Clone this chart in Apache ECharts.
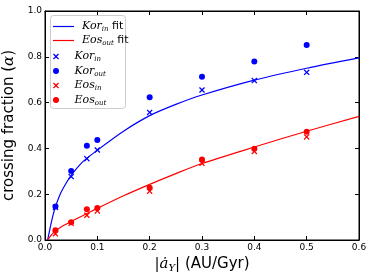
<!DOCTYPE html>
<html><head><meta charset="utf-8">
<script src="https://cdn.jsdelivr.net/npm/echarts@6/dist/echarts.min.js"></script>
<style>html,body{margin:0;padding:0;background:#fff}#c{width:374px;height:280px}</style>
</head><body><div id="c"></div>
<script>
// ---- data ----
const xPoints = [0.02, 0.05, 0.08, 0.1, 0.2, 0.3, 0.4, 0.5];
const korIn  = [0.143, 0.277, 0.355, 0.393, 0.557, 0.655, 0.696, 0.732];
const korOut = [0.146, 0.301, 0.412, 0.437, 0.623, 0.713, 0.779, 0.852];
const eosIn  = [0.027, 0.073, 0.108, 0.127, 0.213, 0.335, 0.387, 0.450];
const eosOut = [0.043, 0.077, 0.134, 0.140, 0.228, 0.352, 0.399, 0.473];
const fitX    = [0.005, 0.01, 0.015, 0.02, 0.03, 0.04, 0.05, 0.07, 0.1, 0.15, 0.2, 0.25, 0.3, 0.4, 0.5, 0.6];
const korFitY = [0.0, 0.055, 0.105, 0.145, 0.205, 0.247, 0.282, 0.337, 0.392, 0.475, 0.543, 0.592, 0.633, 0.698, 0.750, 0.795];
const eosFitY = [0.0, 0.016, 0.029, 0.040, 0.056, 0.069, 0.081, 0.104, 0.138, 0.193, 0.243, 0.290, 0.334, 0.406, 0.475, 0.540];
const xTicks = ['0.0','0.1','0.2','0.3','0.4','0.5','0.6'];
const yTicks = ['0.0','0.2','0.4','0.6','0.8','1.0'];
const legendLabels = {
  'Kor_in fit': '{i|Kor}{s|in}{t| fit}',
  'Eos_out fit': '{i|Eos}{s|out}{t| fit}',
  'Kor_in': '{i|Kor}{s|in}',
  'Kor_out': '{i|Kor}{s|out}',
  'Eos_in': '{i|Eos}{s|in}',
  'Eos_out': '{i|Eos}{s|out}'
};
// -----------------
const zip = (xs, ys) => xs.map((x, i) => [x, ys[i]]);
const BLUE = '#0000ff', RED = '#ff0000';
const crossPath = 'path://M0,1.5 L1.5,0 L5,3.5 L8.5,0 L10,1.5 L6.5,5 L10,8.5 L8.5,10 L5,6.5 L1.5,10 L0,8.5 L3.5,5 Z';
const richLegend = {
  i: {fontFamily: 'DejaVu Serif', fontStyle: 'italic', fontSize: 11, lineHeight: 13, color: '#000'},
  s: {fontFamily: 'DejaVu Serif', fontStyle: 'italic', fontSize: 7, lineHeight: 7, verticalAlign: 'bottom', color: '#000'},
  t: {fontFamily: 'DejaVu Sans', fontSize: 11, lineHeight: 13, color: '#000'}
};
function axisStyle() {
  return {
    axisLine: {show: true, onZero: false, lineStyle: {color: '#000', width: 1}},
    axisTick: {show: true, inside: true, length: 4, lineStyle: {color: '#000'}},
    splitLine: {show: false}
  };
}
const chart = echarts.init(document.getElementById('c'), null, {renderer: 'canvas'});
chart.setOption({
  animation: false,
  backgroundColor: '#fff',
  grid: {left: 45, right: 15, top: 11, bottom: 40, outerBoundsMode: 'none',
    show: true, borderColor: '#000', borderWidth: 1},
  graphic: [{
    type: 'rect', left: 50, top: 15, z: 5,
    shape: {width: 75, height: 93, r: 3},
    style: {fill: '#fff', stroke: '#cccccc', lineWidth: 1}
  }],
  legend: [{
    orient: 'vertical', left: 53, top: 21, z: 10,
    itemWidth: 21, itemHeight: 13, itemGap: 2, padding: 0,
    data: [
      {name: 'Kor_in fit', icon: 'path://M0,0 L21,0 L21,1.2 L0,1.2 Z'},
      {name: 'Eos_out fit', icon: 'path://M0,0 L21,0 L21,1.2 L0,1.2 Z'}
    ],
    formatter: n => legendLabels[n],
    textStyle: {rich: richLegend, padding: [0, 0, 0, 3]}
  }, {
    orient: 'vertical', left: 53, top: 51, z: 10,
    itemWidth: 21, itemHeight: 6, itemGap: 2.5, padding: 0,
    data: ['Kor_in', 'Kor_out', 'Eos_in', 'Eos_out'],
    formatter: n => legendLabels[n],
    textStyle: {rich: richLegend, padding: [0, 0, 0, 3]}
  }],
  xAxis: [Object.assign({
    type: 'value', min: 0, max: 0.6, interval: 0.1, position: 'bottom',
    axisLabel: {fontFamily: 'DejaVu Sans', fontSize: 9, color: '#000', margin: 3,
      formatter: v => xTicks[Math.round(v * 10)]},
    name: '{b||}{i|ȧ}{s|Y}{b||} (AU/Gyr)', nameLocation: 'middle', nameGap: 13,
    nameTextStyle: {fontFamily: 'DejaVu Sans', fontSize: 15, color: '#000', rich: {
      b: {fontFamily: 'DejaVu Serif', fontSize: 15, lineHeight: 18, color: '#000'},
      i: {fontFamily: 'DejaVu Serif', fontStyle: 'italic', fontSize: 15, lineHeight: 18, color: '#000'},
      s: {fontFamily: 'DejaVu Serif', fontStyle: 'italic', fontSize: 10, lineHeight: 10, verticalAlign: 'bottom', color: '#000'}
    }}
  }, axisStyle()), Object.assign({
    type: 'value', min: 0, max: 0.6, interval: 0.1, position: 'top',
    axisLabel: {show: false}
  }, axisStyle())],
  yAxis: [Object.assign({
    type: 'value', min: 0, max: 1, interval: 0.2, position: 'left',
    axisLabel: {fontFamily: 'DejaVu Sans', fontSize: 9, color: '#000', margin: 3,
      formatter: v => yTicks[Math.round(v * 5)]},
    name: 'crossing fraction ({i|α})', nameLocation: 'middle', nameGap: 23, nameRotate: 90,
    nameTextStyle: {fontFamily: 'DejaVu Sans', fontSize: 15, color: '#000', rich: {
      i: {fontFamily: 'DejaVu Serif', fontStyle: 'italic', fontSize: 15, color: '#000'}
    }}
  }, axisStyle()), Object.assign({
    type: 'value', min: 0, max: 1, interval: 0.2, position: 'right',
    axisLabel: {show: false}
  }, axisStyle())],
  series: [
    {name: 'Kor_in fit', type: 'line', data: zip(fitX, korFitY), smooth: 0.3, symbol: 'none',
      lineStyle: {color: BLUE, width: 1.2}, itemStyle: {color: BLUE}, z: 3},
    {name: 'Eos_out fit', type: 'line', data: zip(fitX, eosFitY), smooth: 0.3, symbol: 'none',
      lineStyle: {color: RED, width: 1.2}, itemStyle: {color: RED}, z: 3},
    {name: 'Kor_in', type: 'scatter', data: zip(xPoints, korIn), symbol: crossPath, symbolSize: 6,
      itemStyle: {color: BLUE, opacity: 1}, z: 4},
    {name: 'Kor_out', type: 'scatter', data: zip(xPoints, korOut), symbol: 'circle', symbolSize: 6,
      itemStyle: {color: BLUE, opacity: 1}, z: 4},
    {name: 'Eos_in', type: 'scatter', data: zip(xPoints, eosIn), symbol: crossPath, symbolSize: 6,
      itemStyle: {color: RED, opacity: 1}, z: 4},
    {name: 'Eos_out', type: 'scatter', data: zip(xPoints, eosOut), symbol: 'circle', symbolSize: 6,
      itemStyle: {color: RED, opacity: 1}, z: 4}
  ]
});
</script></body></html>
